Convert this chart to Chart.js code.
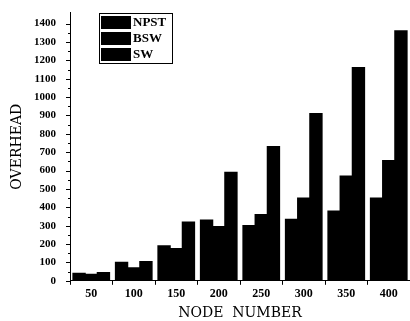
<!DOCTYPE html>
<html>
<head>
<meta charset="utf-8">
<script src="https://cdn.jsdelivr.net/npm/chart.js@4/dist/chart.umd.min.js"></script>
<style>
  html, body { margin: 0; padding: 0; background: #fff; }
  #wrap { width: 410px; height: 321px; }
</style>
</head>
<body>
<div id="wrap"><canvas id="myChart" width="410" height="321"></canvas></div>
<script>
var nodes = ['50', '100', '150', '200', '250', '300', '350', '400'];
var npst = [40, 100, 190, 330, 300, 335, 380, 450];
var bsw = [35, 70, 175, 295, 360, 450, 570, 655];
var sw = [45, 105, 320, 590, 730, 910, 1160, 1360];
var yTicks = [0, 100, 200, 300, 400, 500, 600, 700, 800, 900, 1000, 1100, 1200, 1300, 1400];

var serif = '"DejaVu Serif", "Liberation Serif", serif';
var times = '"Liberation Serif", serif';

// legend box drawn inside the plot, top left
var boxLegend = {
  id: 'boxLegend',
  afterDraw: function (chart) {
    var c = chart.ctx;
    var x = 99, y = 13, w = 73, rowH = 16;
    var sets = chart.data.datasets;
    c.save();
    c.fillStyle = '#fff';
    c.fillRect(x, y, w, rowH * sets.length + 2);
    c.strokeStyle = '#000';
    c.lineWidth = 1;
    c.strokeRect(x + 0.5, y + 0.5, w, rowH * sets.length + 2);
    c.font = 'bold 13px ' + times;
    c.textBaseline = 'middle';
    sets.forEach(function (ds, i) {
      var ry = y + 2 + i * rowH;
      c.fillStyle = ds.backgroundColor;
      c.fillRect(x + 2, ry + 1, 30, rowH - 3);
      c.fillStyle = '#000';
      c.fillText(ds.label, x + 34, ry + rowH / 2);
    });
    c.restore();
  }
};

// small outward ticks on the y axis, major and minor
var yTickMarks = {
  id: 'yTickMarks',
  afterDraw: function (chart) {
    var c = chart.ctx;
    var ys = chart.scales.y;
    var left = chart.chartArea.left;
    c.save();
    c.strokeStyle = '#000';
    c.lineWidth = 1;
    for (var v = 0; v <= 1400; v += 50) {
      var py = Math.round(ys.getPixelForValue(v)) + 0.5;
      c.beginPath();
      c.moveTo(left, py);
      c.lineTo(left - (v % 100 === 0 ? 4 : 2), py);
      c.stroke();
    }
    c.restore();
  }
};

var ctx = document.getElementById('myChart').getContext('2d');

var chart = new Chart(ctx, {
  type: 'bar',
  data: {
    labels: nodes,
    datasets: [
      { label: 'NPST', data: npst, backgroundColor: '#000' },
      { label: 'BSW', data: bsw, backgroundColor: '#000' },
      { label: 'SW', data: sw, backgroundColor: '#000' }
    ]
  },
  options: {
    responsive: false,
    animation: false,
    layout: { padding: { left: 10, right: 0, top: 12, bottom: 0 } },
    datasets: {
      bar: { categoryPercentage: 0.86, barPercentage: 1.0, borderWidth: 0, inflateAmount: 0.6 }
    },
    plugins: {
      legend: { display: false },
      tooltip: { enabled: false }
    },
    scales: {
      x: {
        grid: { display: true, drawOnChartArea: false, tickLength: 4, color: '#000' },
        border: { display: true, color: '#000', width: 1 },
        ticks: { color: '#000', font: { family: times, size: 12, weight: 'bold', lineHeight: 1.1 }, padding: 3, maxRotation: 0 },
        title: { display: true, text: 'NODE  NUMBER', color: '#000', font: { family: serif, size: 14, lineHeight: 1.0 }, padding: { top: 2, bottom: 1 } }
      },
      y: {
        min: 0,
        max: 1460,
        afterBuildTicks: function (axis) {
          axis.ticks = yTicks.map(function (v) { return { value: v }; });
        },
        grid: { display: false },
        border: { display: true, color: '#000', width: 1 },
        ticks: {
          autoSkip: false,
          color: '#000',
          font: { family: times, size: 11, weight: 'bold' },
          padding: 6,
          callback: function (v) { return String(v); }
        },
        title: { display: true, text: 'OVERHEAD', color: '#000', font: { family: serif, size: 14, lineHeight: 1.0 }, padding: { top: 0, bottom: 4 } }
      }
    }
  },
  plugins: [boxLegend, yTickMarks]
});
</script>
</body>
</html>
